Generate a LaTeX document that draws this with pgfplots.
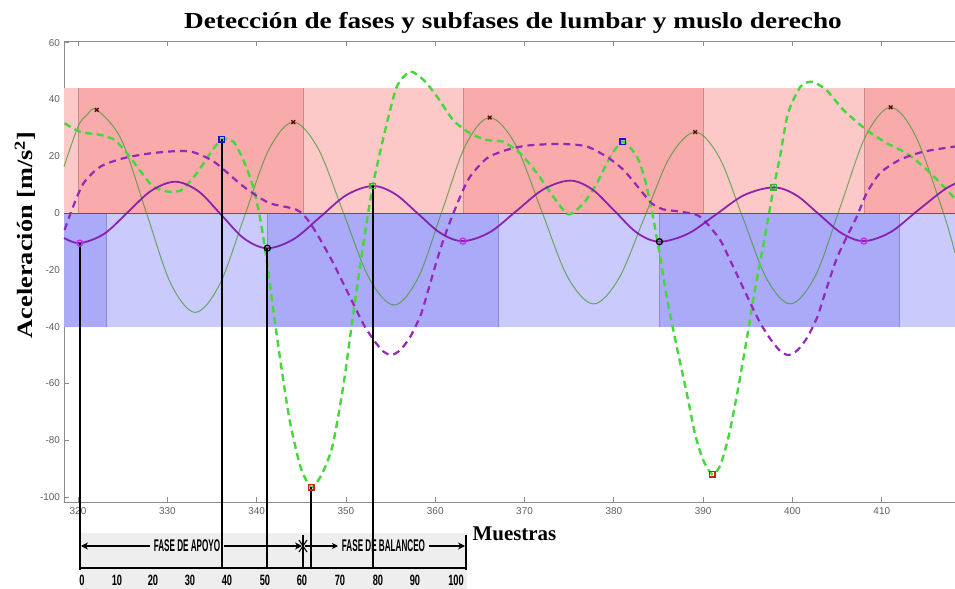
\documentclass[border=0pt]{standalone}
\usepackage{pgfplots}
\pgfplotsset{compat=1.18}
\usepackage{fontspec}
\setmainfont{Liberation Serif}
\setsansfont{Liberation Sans}
\usetikzlibrary{arrows.meta}

\definecolor{reddark}{RGB}{249,170,170}
\definecolor{redlight}{RGB}{252,200,200}
\definecolor{bluedark}{RGB}{170,170,249}
\definecolor{bluelight}{RGB}{202,202,252}
\definecolor{redsep}{RGB}{200,140,140}
\definecolor{bluesep}{RGB}{140,140,200}
\definecolor{gsolid}{RGB}{60,150,40}
\definecolor{gdash}{RGB}{70,215,60}
\definecolor{pdash}{RGB}{150,40,185}
\definecolor{psolid}{RGB}{130,20,170}
\definecolor{xred}{RGB}{90,15,15}
\definecolor{mblue}{RGB}{20,20,210}
\definecolor{mred}{RGB}{210,30,20}
\definecolor{mgreen}{RGB}{60,180,60}
\definecolor{mmag}{RGB}{200,40,240}
\definecolor{tickgray}{RGB}{95,95,95}
\definecolor{axisgray}{RGB}{140,140,140}
\definecolor{stripbg}{RGB}{238,238,238}

\begin{document}
\begin{tikzpicture}
\path[use as bounding box] (0bp,0bp) rectangle (955bp,589bp);

% gait cycle strip: stance and swing phases in percent of the cycle
\begin{scope}[x=1bp,y=1bp]
  \fill[stripbg] (80,0) rectangle (467,56);
  \draw[line width=2bp] (80,21) -- (466,21);
  \draw[line width=2bp] (80,19) -- (80,54);
  \draw[line width=2.4bp] (466,19) -- (466,54);
  \draw[line width=1.6bp] (303,21) -- (303,54);
  \draw[line width=1bp] (299,49) -- (307,37) (299,37) -- (307,49);
  \draw[line width=1.6bp,-{Stealth[length=7bp,width=7bp]}] (150,43) -- (81,43);
  \draw[line width=1.6bp,-{Stealth[length=7bp,width=7bp]}] (224,43) -- (302,43);
  \draw[line width=1.6bp,-{Stealth[length=6bp,width=6bp]}] (305,43) -- (338,43);
  \draw[line width=1.6bp,-{Stealth[length=7bp,width=7bp]}] (429,43) -- (465,43);
  \node[font=\sffamily\bfseries\fontsize{17}{17}\selectfont] at (187,43) {\scalebox{0.48}[1]{FASE DE APOYO}};
  \node[font=\sffamily\bfseries\fontsize{17}{17}\selectfont] at (383.5,43) {\scalebox{0.48}[1]{FASE DE BALANCEO}};
  \foreach \px/\lab in {82/0,117/10,153/20,190/30,227/40,265/50,302/60,340/70,378/80,415/90,456/100}
    \node[font=\sffamily\bfseries\fontsize{15}{15}\selectfont] at (\px,8.5) {\scalebox{0.62}[1]{\lab}};
\end{scope}

\begin{axis}[
  at={(64bp,87bp)}, anchor=south west,
  scale only axis, width=891bp, height=461bp,
  xmin=318.43, xmax=418.2, ymin=-101.76, ymax=60.56,
  axis x line*=box, axis y line*=left,
  xtick={320,330,...,410}, ytick={-100,-80,...,60},
  tick align=inside, major tick length=5bp,
  axis line style={draw=axisgray, line width=0.8bp},
  every tick/.style={axisgray, line width=0.8bp},
  tick label style={font=\sffamily\fontsize{10}{12}\selectfont, text=tickgray},
  /pgf/number format/assume math mode=true,
  xticklabel style={yshift=-2.5bp},
  yticklabel style={xshift=-0.5bp},
  clip=false,
]
% upper band: lumbar sub-phases
\fill[redlight] (axis cs:318.43,0) rectangle (axis cs:320,44);
\fill[reddark]  (axis cs:320,0) rectangle (axis cs:345.2,44);
\fill[redlight] (axis cs:345.2,0) rectangle (axis cs:363.1,44);
\fill[reddark]  (axis cs:363.1,0) rectangle (axis cs:390,44);
\fill[redlight] (axis cs:390,0) rectangle (axis cs:408,44);
\fill[reddark]  (axis cs:408,0) rectangle (axis cs:418.2,44);
\draw[redsep, line width=0.6bp] (axis cs:320,0) -- (axis cs:320,44)
  (axis cs:345.2,0) -- (axis cs:345.2,44) (axis cs:363.1,0) -- (axis cs:363.1,44)
  (axis cs:390,0) -- (axis cs:390,44) (axis cs:408,0) -- (axis cs:408,44);
% lower band: thigh sub-phases
\fill[bluedark]  (axis cs:318.43,-40) rectangle (axis cs:323.2,0);
\fill[bluelight] (axis cs:323.2,-40) rectangle (axis cs:341.2,0);
\fill[bluedark]  (axis cs:341.2,-40) rectangle (axis cs:367.1,0);
\fill[bluelight] (axis cs:367.1,-40) rectangle (axis cs:385.1,0);
\fill[bluedark]  (axis cs:385.1,-40) rectangle (axis cs:412,0);
\fill[bluelight] (axis cs:412,-40) rectangle (axis cs:418.2,0);
\draw[bluesep, line width=0.6bp] (axis cs:323.2,-40) -- (axis cs:323.2,0)
  (axis cs:341.2,-40) -- (axis cs:341.2,0) (axis cs:367.1,-40) -- (axis cs:367.1,0)
  (axis cs:385.1,-40) -- (axis cs:385.1,0) (axis cs:412,-40) -- (axis cs:412,0);
\draw[black!65, line width=0.8bp] (axis cs:318.43,0) -- (axis cs:418.2,0);

% thigh, vertical component (thin solid)
\addplot[gsolid, draw opacity=0.7, line width=1bp, smooth, tension=0.55] coordinates {
(318.43,16.3) (320.0,30.4) (321.0,34.5) (322.1,36.3) (324.85,25.85) (327.6,0.65)
(330.35,-24.6) (333.1,-35) (335.85,-25.2) (338.6,-1.5) (341.35,22.2) (344.1,32)
(346.9,22.6) (349.75,-0.2) (352.6,-23) (355.4,-32.4) (358.1,-22.7) (360.75,0.6)
(363.4,23.9) (366.1,33.6) (369.0,24) (371.9,0.8) (374.8,-22.4) (377.7,-32)
(380.55,-23.1) (383.4,-1.75) (386.25,19.6) (389.1,28.5) (391.8,19.6) (394.45,-1.75)
(397.1,-23.1) (399.8,-32) (402.6,-21.9) (405.4,2.6) (408.2,27.1) (411.0,37.2)
(413.8,27) (416.9,0) (418.2,-14)};

% thigh, antero-posterior component (dashed)
\addplot[gdash, line width=2.4bp, dash pattern=on 7bp off 4.5bp, smooth, tension=0.4] coordinates {
(318.5,31.6) (320.2,28.6) (322.5,27.5) (324.1,25.7) (325.5,21) (326.9,15.1)
(328.4,9.3) (330.1,7.5) (331.6,8.1) (333.3,14) (334.8,21) (336.1,26) (337.4,25.1)
(338.5,18.7) (339.6,9.3) (340.4,-2) (341.1,-16) (341.9,-35)
(342.8,-55) (343.7,-73) (344.9,-89.3) (346.1,-96.6) (347.3,-92) (348.5,-82)
(349.7,-61) (350.8,-36) (351.9,-12) (353.0,9.5) (354.4,29.2) (355.7,44.5)
(357.2,49.8) (358.7,46.8) (360.2,41) (362.0,32.7) (363.9,28) (365.8,25.7)
(367.6,25.1) (369.5,21) (371.4,14) (373.2,5.8) (374.9,-0.5) (376.6,3.4)
(378.1,10.5) (379.6,19.8) (381.0,25.1) (382.6,19.8) (383.5,11.6) (384.3,0)
(385.1,-14) (386.0,-31) (387.1,-48) (388.2,-64) (389.1,-78) (390.0,-87)
(391.0,-92) (391.9,-89) (392.9,-78) (393.9,-62) (394.9,-44) (395.8,-27)
(396.7,-12) (397.9,9.0) (398.6,19.8) (399.5,35.1) (400.9,44.5) (402.2,46.2)
(403.8,43.3) (405.7,36.3) (408.3,29.2) (410.6,24.5) (412.8,21) (415.1,15.1)
(417.3,8.1) (418.2,5)};

% lumbar, antero-posterior component (dashed)
\addplot[pdash, line width=2.2bp, dash pattern=on 7bp off 5bp, smooth, tension=0.45] coordinates {
(318.5,-6) (319.3,1) (320.6,10.4) (322.5,16.3) (325.1,19.3) (328.1,21) (331.1,21.8)
(332.9,21.4) (335.2,18.1) (338.1,10.4) (339.6,6.9) (341.5,3.4) (344.5,1.1)
(346.0,-3.6) (348.2,-15.4) (350.8,-31.8) (351.9,-38.8) (353.1,-44.7) (354.2,-48.8)
(355.1,-50) (356.1,-48.2) (357.2,-43.6) (358.3,-36.5) (358.9,-30.6) (360.2,-16.5)
(361.3,-6) (362.8,5.8) (363.9,12.8) (365.8,19.3) (368.0,22.2) (370.2,23.7)
(373.2,24.3) (374.9,24.2) (377.0,23.4) (379.2,19.8) (381.1,15.1) (383.0,8)
(384.2,3.5) (385.5,1.3) (387.4,0.5) (389.3,-0.7) (390.4,-3.6) (391.9,-9.5)
(393.0,-16.5) (395.3,-31.8) (396.4,-38.8) (397.6,-44.7) (398.7,-48.8) (399.6,-50)
(400.6,-48.2) (401.7,-43.6) (402.8,-36.5) (403.4,-30.6) (404.9,-16.5) (406.1,-8.3)
(407.2,-1.3) (408.3,6.9) (409.8,14) (412.0,18.7) (414.7,21.6) (418.2,23.4)};

% lumbar, vertical component (thick solid)
\addplot[psolid, draw opacity=0.9, line width=1.8bp, smooth, tension=0.55] coordinates {
(318.43,-8.8) (320.2,-10.6) (322.9,-7.4) (325.55,0.2) (328.2,7.84) (330.9,11)
(333.5,7.6) (336.05,-0.7) (338.6,-9.0) (341.2,-12.4) (344.15,-9.2) (347.1,-1.45)
(350.05,6.3) (353.0,9.5) (355.5,6.7) (358.05,-0.2) (360.6,-7.1) (363.1,-9.9)
(366.1,-6.8) (369.1,0.75) (372.1,8.3) (375.1,11.4) (377.6,8.25) (380.1,0.65)
(382.6,-7.0) (385.1,-10.1) (388.3,-7.3) (391.45,-0.5) (394.6,6.3) (397.9,9.0)
(400.4,6.3) (402.95,-0.4) (405.5,-7.1) (408.0,-9.9) (410.95,-6.8) (413.9,0.55)
(416.85,7.9) (418.2,10.3)};

% event markers down to the gait cycle strip
\addplot[black, line width=1.8bp] coordinates {(320.2,-10.6) (320.2,-125.3)};
\addplot[black, line width=1.8bp] coordinates {(336.1,26) (336.1,-125.3)};
\addplot[black, line width=1.8bp] coordinates {(341.2,-12.4) (341.2,-125.3)};
\addplot[black, line width=1.8bp] coordinates {(346.1,-96.6) (346.1,-125.3)};
\addplot[black, line width=1.8bp] coordinates {(353.0,9.5) (353.0,-125.3)};

% detected events
\addplot[only marks, mark=x, mark size=2.6bp, mark options={draw=xred, line width=1.3bp}]
  coordinates {(322.1,36.3) (344.1,32) (366.1,33.6) (389.1,28.5) (411.0,37.2)};
\addplot[only marks, mark=square, mark size=2.8bp, mark options={draw=mblue, fill=white, line width=1.5bp}]
  coordinates {(336.1,26) (381.0,25.1)};
\addplot[only marks, mark=square, mark size=2.8bp, mark options={draw=mred, fill=white, line width=1.5bp}]
  coordinates {(346.1,-96.6) (391.0,-92)};
\addplot[only marks, mark=square, mark size=2.6bp, mark options={draw=mgreen, fill=white, line width=1.3bp}]
  coordinates {(353.0,9.5) (397.9,9.0)};
\addplot[only marks, mark=o, mark size=3bp, mark options={draw=mmag, line width=1.3bp}]
  coordinates {(320.2,-10.6) (363.1,-9.9) (408.0,-9.9)};
\addplot[only marks, mark=o, mark size=3bp, mark options={draw=black, fill=black!80, line width=1.3bp}]
  coordinates {(341.2,-12.4) (385.1,-10.1)};
\end{axis}

\begin{scope}[x=1bp,y=1bp]
  \node[font=\bfseries\fontsize{23}{26}\selectfont, anchor=base] at (513,560)
    {\scalebox{1.19}[1]{Detección de fases y subfases de lumbar y muslo derecho}};
  \node[font=\bfseries\fontsize{22}{24}\selectfont, rotate=90] at (25,354)
    {\scalebox{1.2}[1]{Aceleración [m/s$^{\mathbf{2}}$]}};
  \node[font=\bfseries\fontsize{21}{24}\selectfont, anchor=base] at (514.5,49) {Muestras};
\end{scope}
\end{tikzpicture}
\end{document}
